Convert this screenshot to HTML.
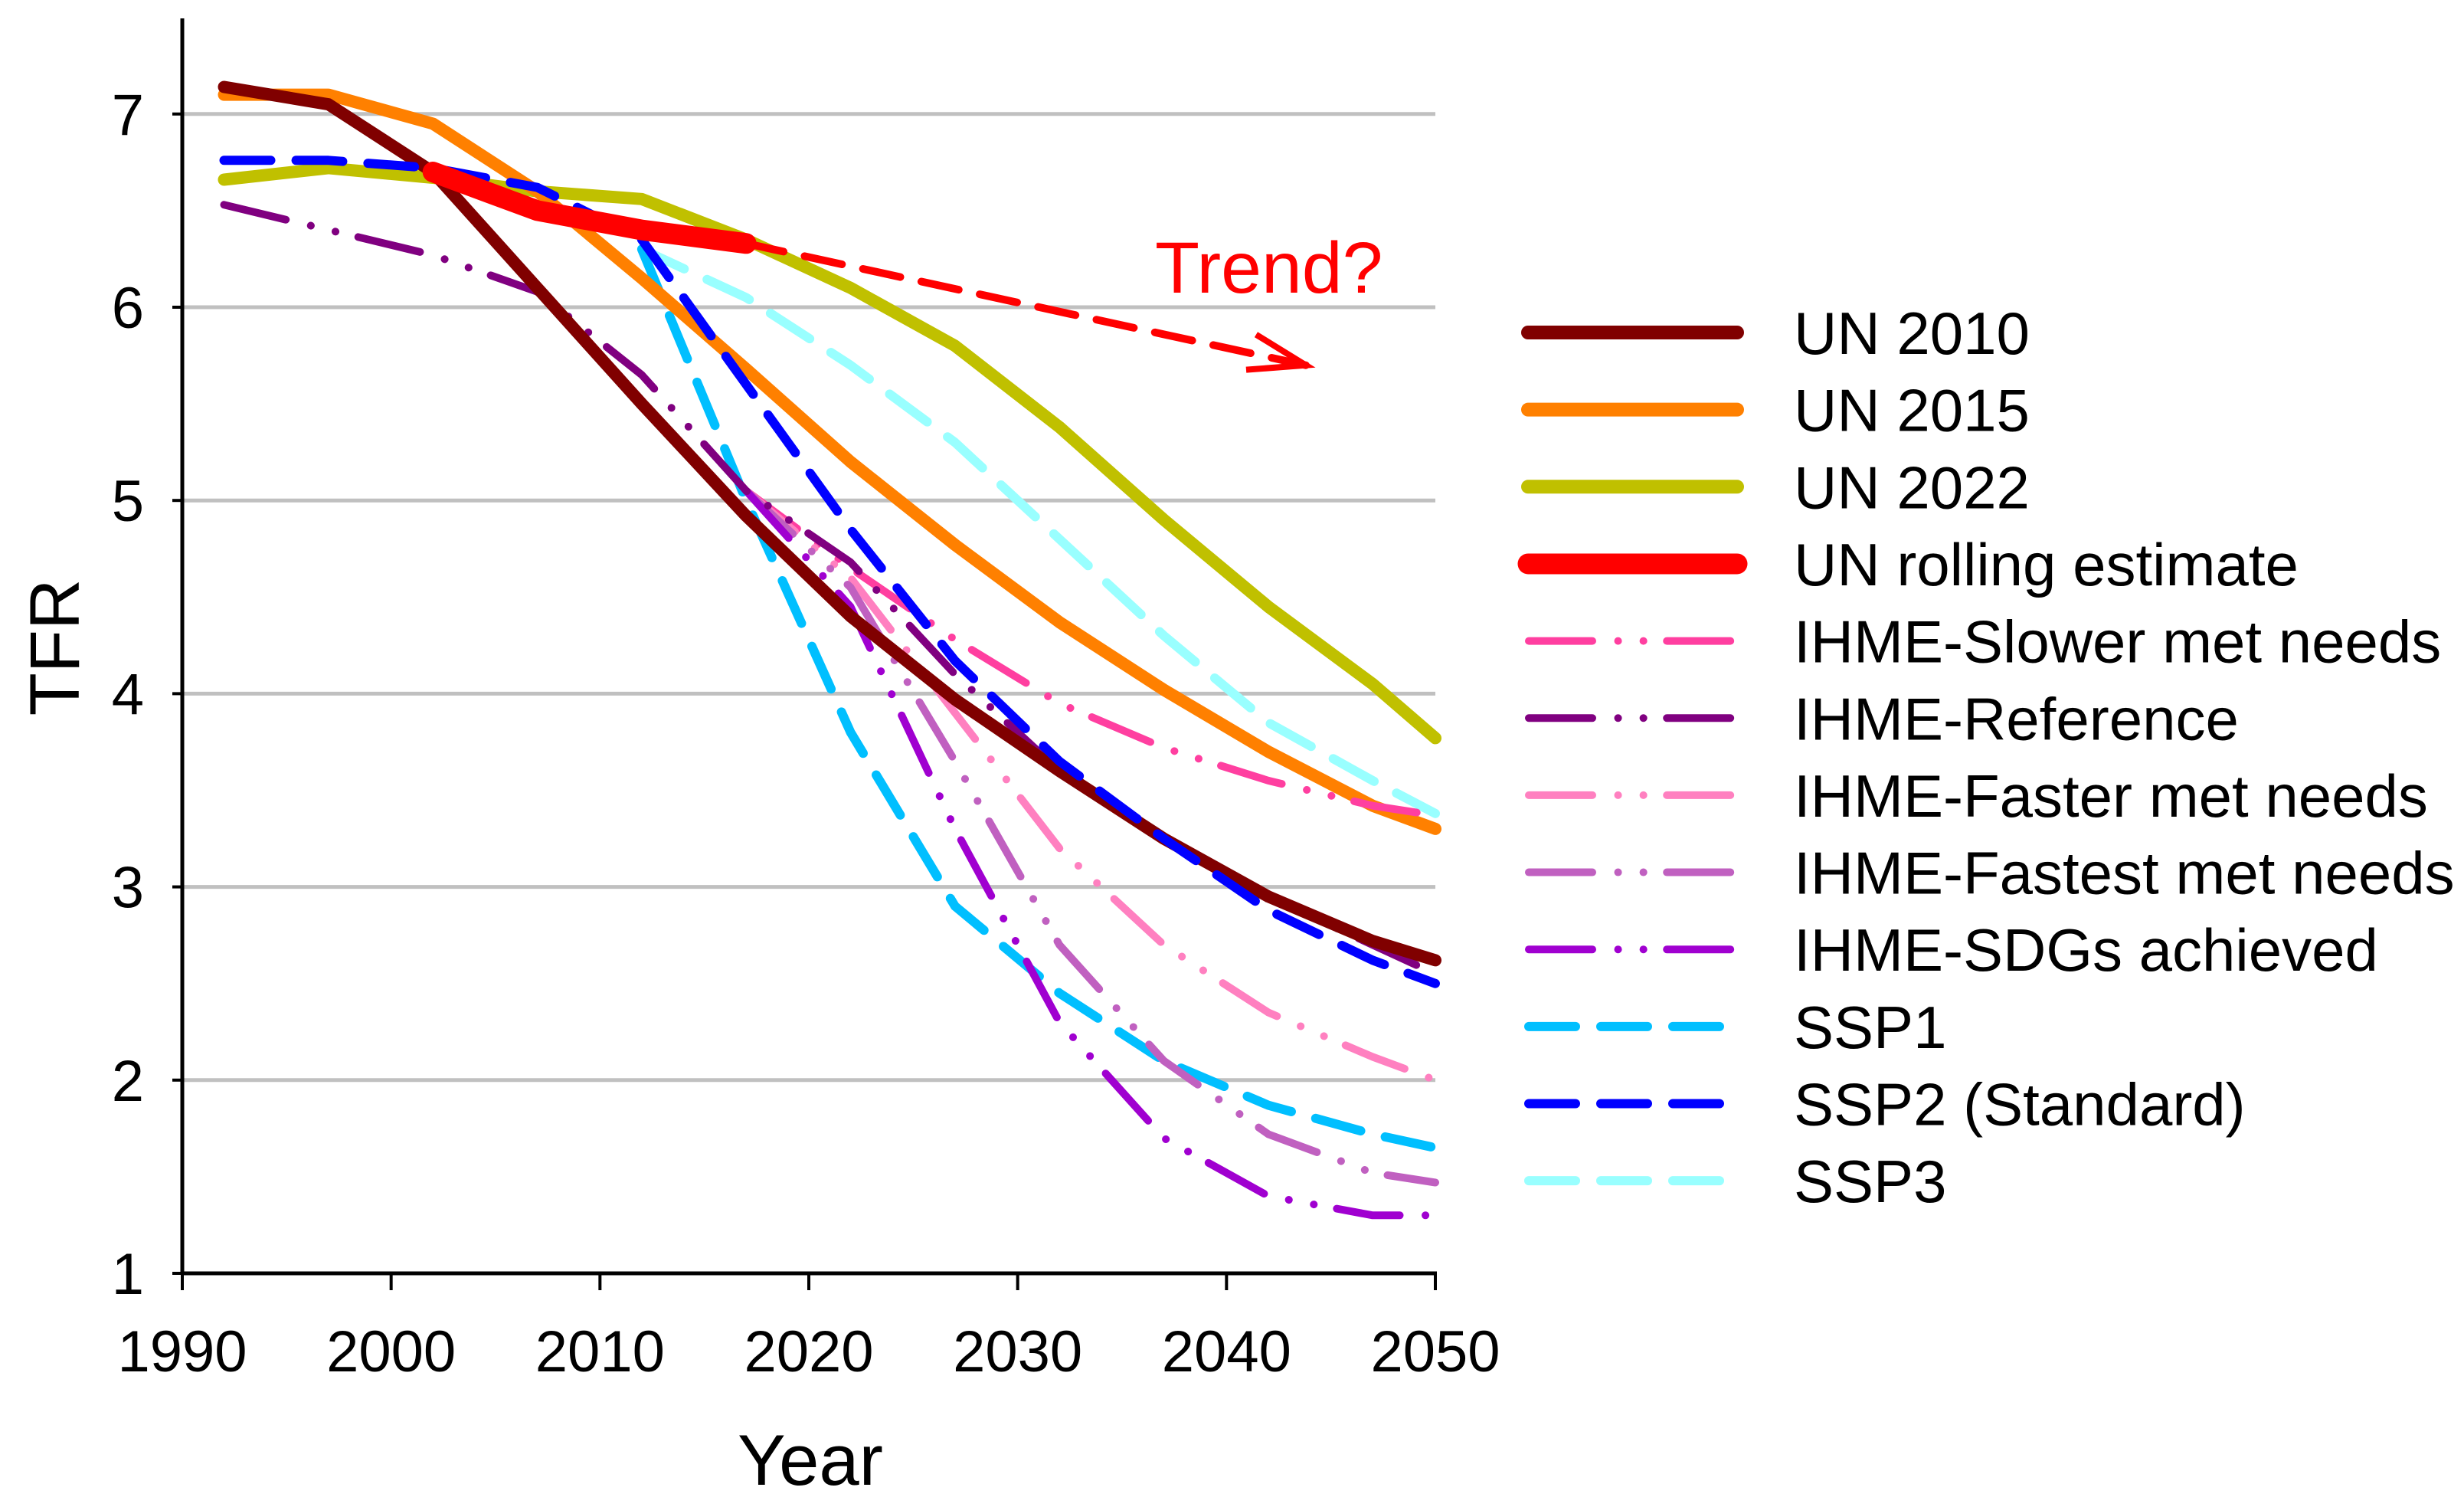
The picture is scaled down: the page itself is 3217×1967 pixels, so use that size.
<!DOCTYPE html>
<html><head><meta charset="utf-8"><style>
html,body{margin:0;padding:0;background:#fff;}
svg{display:block;font-family:"Liberation Sans",Arial,sans-serif;}
</style></head><body>
<svg id="chart" width="3217" height="1967" viewBox="0 0 3217 1967" xmlns="http://www.w3.org/2000/svg">
<g id="grid"></g>
<g id="axes"></g>
<g id="series"></g>
<g id="legend"></g>
<text x="0" y="0" font-size="92" text-anchor="middle" transform="translate(103,845) rotate(-90)">TFR</text>
<text x="1058" y="1938" font-size="94" text-anchor="middle">Year</text>
<text x="1508" y="382" font-size="95" fill="#FF0000">Trend?</text>
</svg>
<script>
const years = [1992,1997,2002,2007,2012,2017,2022,2027,2032,2037,2042,2047,2050];
const yearsProj = [2017,2022,2027,2032,2037,2042,2047,2050];
const yearsSsp = [2012,2017,2022,2027,2032,2037,2042,2047,2050];
const yearsRolling = [2002,2007,2012,2017];
const un2010 = [7.14,7.05,6.7,6.1,5.5,4.92,4.4,3.97,3.6,3.25,2.95,2.72,2.62];
const un2015 = [7.1,7.1,6.95,6.6,6.15,5.68,5.2,4.77,4.37,4.02,3.7,3.42,3.3];
const un2022 = [6.66,6.72,6.67,6.6,6.56,6.35,6.1,5.8,5.38,4.9,4.45,4.05,3.77];
const unRolling = [6.7,6.5,6.4,6.33];
const ihmeReference = [6.53,6.4,6.27,6.08,5.65,5.05,4.68,4.1,3.6,3.25,2.95,2.7,2.55];
const ihmeSlower = [5.05,4.65,4.28,3.95,3.72,3.55,3.42,3.37];
const ihmeFaster = [5.05,4.6,3.9,3.2,2.7,2.35,2.12,2.0];
const ihmeFastest = [5.05,4.55,3.65,2.7,2.1,1.72,1.52,1.47];
const ihmeSdg = [5.05,4.45,3.3,2.3,1.7,1.4,1.3,1.3];
const ssp1 = [6.3,5.0,3.8,2.9,2.45,2.1,1.87,1.72,1.65];
const ssp2 = [6.76,6.76,6.72,6.62,6.35,5.6,4.85,4.17,3.65,3.25,2.88,2.62,2.5];
const ssp3 = [6.3,6.05,5.7,5.3,4.8,4.3,3.85,3.55,3.38];
const trendYears = [2017,2043.8];
const trendValues = [6.33,5.7];
const xTicks = [1990,2000,2010,2020,2030,2040,2050];
const yTicks = [1,2,3,4,5,6,7];

const NS="http://www.w3.org/2000/svg";
const X0=238,X1=1874,Y1=1662,YU=252.2;
function xs(yr){return X0+(yr-1990)*(X1-X0)/60;}
function ys(v){return Y1-(v-1)*YU;}
function mk(tag,attrs,parent){const e=document.createElementNS(NS,tag);for(const k in attrs)e.setAttribute(k,attrs[k]);parent.appendChild(e);return e;}
const grid=document.getElementById('grid'),axes=document.getElementById('axes'),ser=document.getElementById('series'),leg=document.getElementById('legend');

yTicks.forEach(v=>{
  if(v>1){const g=mk('line',{x1:X0,x2:X1,y1:ys(v),y2:ys(v),stroke:'#C0C0C0','stroke-width':5},grid);
  
  }
  const t=mk('line',{x1:X0-13,x2:X0,y1:ys(v),y2:ys(v),stroke:'#000','stroke-width':4},axes);
  
  
  const l=mk('text',{x:188,y:ys(v)+27,'font-size':76,'text-anchor':'end'},axes);l.textContent=v;
  
  
});
xTicks.forEach(yr=>{
  const t=mk('line',{x1:xs(yr),x2:xs(yr),y1:Y1,y2:Y1+22,stroke:'#000','stroke-width':4},axes);
  
  
  const l=mk('text',{x:xs(yr),y:1790,'font-size':76,'text-anchor':'middle'},axes);l.textContent=yr;
  
  
});
const ya=mk('line',{x1:X0,x2:X0,y1:24,y2:Y1+2,stroke:'#000','stroke-width':5},axes);


const xa=mk('line',{x1:X0-2,x2:X1+2,y1:Y1,y2:Y1,stroke:'#000','stroke-width':5},axes);



const DDOT='83 33.5 0.1 33 0.1 30.5', DASH='61 33';
function path(xv,yv){return xv.map((x,i)=>(i?'L':'M')+xs(x).toFixed(1)+','+ys(yv[i]).toFixed(1)).join(' ');}
const defs=[
 {name:'SSP3',id:'ssp3',x:yearsSsp,y:ssp3,c:'#99FFFF',w:12,d:DASH},
 {name:'SSP1',id:'ssp1',x:yearsSsp,y:ssp1,c:'#00BFFF',w:12,d:DASH},
 {name:'UN 2022',id:'un-2022',x:years,y:un2022,c:'#C0C000',w:16,d:null},
 {name:'UN 2015',id:'un-2015',x:years,y:un2015,c:'#FF8000',w:16,d:null},
 {name:'IHME-Slower met needs',id:'ihme-slower',x:yearsProj,y:ihmeSlower,c:'#FF3FA0',w:10,d:DDOT},
 {name:'IHME-Faster met needs',id:'ihme-faster',x:yearsProj,y:ihmeFaster,c:'#FF80C0',w:10,d:DDOT},
 {name:'IHME-Fastest met needs',id:'ihme-fastest',x:yearsProj,y:ihmeFastest,c:'#C060C0',w:10,d:DDOT},
 {name:'IHME-SDGs achieved',id:'ihme-sdgs',x:yearsProj,y:ihmeSdg,c:'#A000D0',w:10,d:DDOT},
 {name:'IHME-Reference',id:'ihme-reference',x:years,y:ihmeReference,c:'#800080',w:10,d:DDOT},
 {name:'UN 2010',id:'un-2010',x:years,y:un2010,c:'#800000',w:16,d:null},
 {name:'SSP2 (Standard)',id:'ssp2',x:years,y:ssp2,c:'#0000FF',w:12,d:DASH},
 {name:'UN rolling estimate',id:'un-rolling',x:yearsRolling,y:unRolling,c:'#FF0000',w:27,d:null}
];
defs.forEach(s=>{
  const a={d:path(s.x,s.y),fill:'none',stroke:s.c,'stroke-width':s.w,'stroke-linecap':'round','stroke-linejoin':'round'};
  if(s.d)a['stroke-dasharray']=s.d;
  const p=mk('path',a,ser);
  
  
});
const tr=mk('path',{d:path(trendYears,trendValues),fill:'none',stroke:'#FF0000','stroke-width':10,'stroke-dasharray':'50 28','stroke-linecap':'round'},ser);


const ex=xs(trendYears[1]),ey=ys(trendValues[1]);
const ah=mk('path',{d:`M${ex-65},${ey-40} L${ex},${ey} L${ex-78},${ey+6}`,fill:'none',stroke:'#FF0000','stroke-width':8,'stroke-linejoin':'miter'},ser);



const order=['UN 2010','UN 2015','UN 2022','UN rolling estimate','IHME-Slower met needs','IHME-Reference','IHME-Faster met needs','IHME-Fastest met needs','IHME-SDGs achieved','SSP1','SSP2 (Standard)','SSP3'];
order.forEach((n,i)=>{
  const s=defs.find(d=>d.name===n);const y=434+i*100.65;
  const g=mk('g',{},leg);
  
  
  const a={x1:1995,x2:2268,y1:y,y2:y,stroke:s.c,'stroke-width':s.w===16?18:s.w,'stroke-linecap':'round'};
  if(s.d)a['stroke-dasharray']=s.d;
  if(s.d===DASH){a.x1=1996;a.x2=2245;}
  if(s.d===DDOT){a.x1=1996;a.x2=2267;}
  mk('line',a,g);
  const t=mk('text',{x:2342,y:y+28,'font-size':78},g);t.textContent=n;
});
</script>
</body></html>
